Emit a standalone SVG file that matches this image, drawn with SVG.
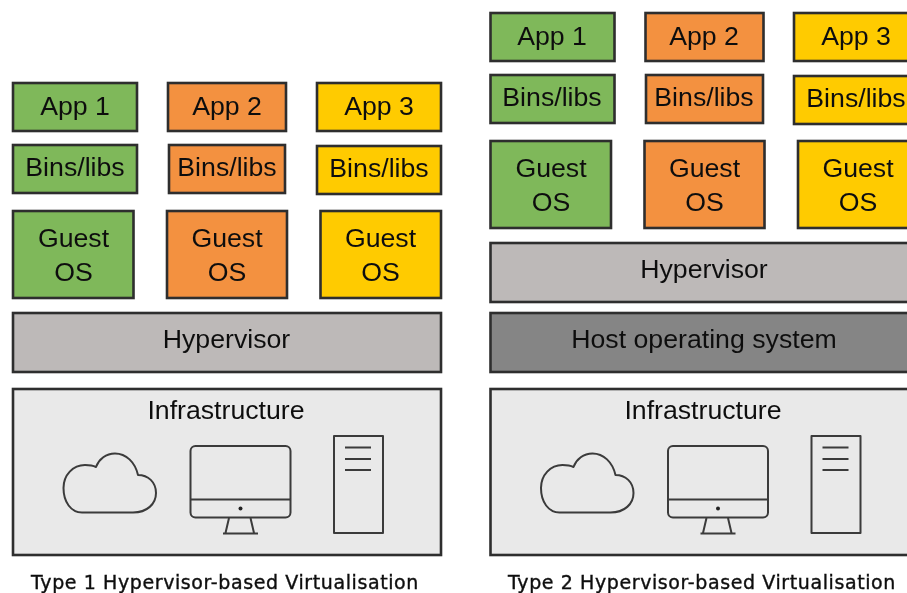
<svg xmlns="http://www.w3.org/2000/svg" width="907" height="593" viewBox="0 0 907 593">
<style>
.b{stroke:#2e2e2e;stroke-width:2.6}
.g{fill:#7fb85a}.o{fill:#f39140}.y{fill:#ffcb05}.h{fill:#bdb9b8}.d{fill:#858585}.i{fill:#e9e9e9}
text{font-family:"Liberation Sans",Arial,sans-serif;font-size:26.700px;fill:#111;text-anchor:middle}
.c{font-family:"DejaVu Sans",Verdana,sans-serif;font-size:19px;letter-spacing:.6px;stroke:#111;stroke-width:.4px}
.k{fill:none;stroke:#3a3a3a;stroke-width:2;stroke-linejoin:round}
</style>
<defs>
<filter id="soft" x="-2%" y="-2%" width="104%" height="104%"><feGaussianBlur stdDeviation="0.55"/></filter>
<g id="icons">
<path class="k" d="M82 512.500H133C147 512.500 156 504 156 493C156 482 148 475 138 475C135 462 126 453.500 115 453.500C106 453.500 99 459 96 467C92 465 88 465 85 465C73 465 63.500 475 63.500 488C63.500 502 71 512.500 82 512.500Z"/>
<rect class="k" x="190.500" y="446" width="100" height="71.500" rx="5"/>
<path class="k" d="M190.500 499.500H290.500M229 518L225.500 533M250.500 518L254 533M223 533.500H258"/>
<circle cx="240.500" cy="508.500" r="2" fill="#222"/>
<rect class="k" x="334" y="436" width="49" height="97"/>
<path class="k" d="M345 447.500H371M345 459H371M345 470H371"/>
</g>
</defs>
<g filter="url(#soft)">
<g id="t1-app1"><rect class="b g" x="13" y="83" width="124" height="48"/><text x="75" y="115">App 1</text></g>
<g id="t1-app2"><rect class="b o" x="168" y="83" width="118" height="48"/><text x="227" y="115">App 2</text></g>
<g id="t1-app3"><rect class="b y" x="317" y="83" width="124" height="48"/><text x="379" y="115">App 3</text></g>
<g id="t1-bins1"><rect class="b g" x="13" y="145" width="124" height="48"/><text x="75" y="176">Bins/libs</text></g>
<g id="t1-bins2"><rect class="b o" x="169" y="145" width="116" height="48"/><text x="227" y="176">Bins/libs</text></g>
<g id="t1-bins3"><rect class="b y" x="317" y="146" width="124" height="48"/><text x="379" y="177">Bins/libs</text></g>
<g id="t1-guest1"><rect class="b g" x="13" y="211" width="120.500" height="87"/><text x="73.500" y="247">Guest</text><text x="73.500" y="281">OS</text></g>
<g id="t1-guest2"><rect class="b o" x="167" y="211" width="120" height="87"/><text x="227" y="247">Guest</text><text x="227" y="281">OS</text></g>
<g id="t1-guest3"><rect class="b y" x="320.500" y="211" width="120.500" height="87"/><text x="380.500" y="247">Guest</text><text x="380.500" y="281">OS</text></g>
<g id="t1-hypervisor"><rect class="b h" x="13" y="313" width="428" height="59"/><text x="226.500" y="348">Hypervisor</text></g>
<g id="t1-infrastructure"><rect class="b i" x="13" y="389" width="428" height="166"/><text x="226" y="419">Infrastructure</text><use href="#icons"/></g>
<text id="t1-caption" class="c" x="225" y="589">Type 1 Hypervisor-based Virtualisation</text>

<g id="t2-app1"><rect class="b g" x="490.500" y="13" width="124" height="48"/><text x="552" y="45">App 1</text></g>
<g id="t2-app2"><rect class="b o" x="645.500" y="13" width="118" height="48"/><text x="704" y="45">App 2</text></g>
<g id="t2-app3"><rect class="b y" x="794" y="13" width="124" height="48"/><text x="856" y="45">App 3</text></g>
<g id="t2-bins1"><rect class="b g" x="490.500" y="75" width="124" height="48"/><text x="552" y="106">Bins/libs</text></g>
<g id="t2-bins2"><rect class="b o" x="646" y="75" width="117" height="48"/><text x="704" y="106">Bins/libs</text></g>
<g id="t2-bins3"><rect class="b y" x="794" y="76" width="124" height="48"/><text x="856" y="107">Bins/libs</text></g>
<g id="t2-guest1"><rect class="b g" x="490.500" y="141" width="120.500" height="87"/><text x="551" y="177">Guest</text><text x="551" y="211">OS</text></g>
<g id="t2-guest2"><rect class="b o" x="644.500" y="141" width="120" height="87"/><text x="704.500" y="177">Guest</text><text x="704.500" y="211">OS</text></g>
<g id="t2-guest3"><rect class="b y" x="798" y="141" width="120" height="87"/><text x="858" y="177">Guest</text><text x="858" y="211">OS</text></g>
<g id="t2-hypervisor"><rect class="b h" x="490.500" y="243" width="428" height="59"/><text x="704" y="278">Hypervisor</text></g>
<g id="t2-host"><rect class="b d" x="490.500" y="313" width="428" height="59"/><text x="704" y="348">Host operating system</text></g>
<g id="t2-infrastructure"><rect class="b i" x="490.500" y="389" width="428" height="166"/><text x="703" y="419">Infrastructure</text><use href="#icons" x="477.500"/></g>
<text id="t2-caption" class="c" x="702" y="589">Type 2 Hypervisor-based Virtualisation</text>
</g>
</svg>
